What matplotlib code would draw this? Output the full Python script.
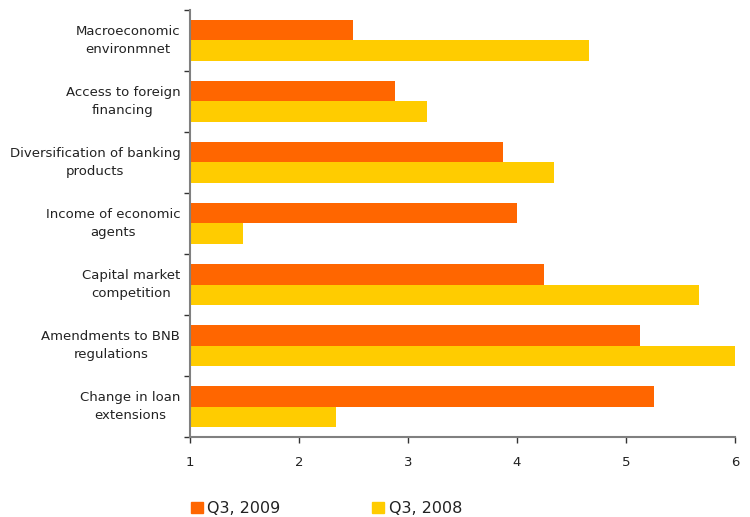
import numpy as np
import matplotlib
matplotlib.use("Agg")
import matplotlib.pyplot as plt
from matplotlib.patches import Patch

factors = ["Macroeconomic\nenvironmnet",
           "Access to foreign\nfinancing",
           "Diversification of banking\nproducts",
           "Income of economic\nagents",
           "Capital market\ncompetition",
           "Amendments to BNB\nregulations",
           "Change in loan\nextensions"]
q3_2009 = [2.50, 2.88, 3.87, 4.00, 4.25, 5.13, 5.26]
q3_2008 = [4.66, 3.17, 4.34, 1.49, 5.67, 6.00, 2.34]
series_names = ["Q3, 2009", "Q3, 2008"]
x_ticks = [1, 2, 3, 4, 5, 6]

orange = "#FF6600"
yellow = "#FFCC00"
axis_grey = "#808080"
text_col = "#222222"

plt.rcParams["font.family"] = "DejaVu Sans"

fig = plt.figure(figsize=(7.5, 5.17), dpi=100)
ax = fig.add_axes([0.2533, 0.1547, 0.7267, 0.826])

pos = np.arange(len(factors))
h = 0.335
# bars start at the axis origin (1), so width = value - 1
ax.barh(pos - h / 2, np.array(q3_2009) - 1, height=h, left=1, color=orange)
ax.barh(pos + h / 2, np.array(q3_2008) - 1, height=h, left=1, color=yellow)

ax.set_xlim(1, 6)
ax.set_ylim(len(factors) - 0.5, -0.5)
ax.set_xticks(x_ticks)
ax.set_xticklabels([str(t) for t in x_ticks], fontsize=9.5, color=text_col)
# label ticks sit a touch above the group centre (they are hidden anyway)
ax.set_yticks(pos - 0.06)
ax.set_yticklabels(factors, fontsize=9.5, color=text_col,
                   multialignment="center", linespacing=1.45)
ax.set_yticks(np.arange(-0.5, len(factors), 1), minor=True)

ax.tick_params(axis="y", which="major", length=0, pad=7)
ax.tick_params(axis="y", which="minor", length=4, width=1, color="#333333", direction="out")
ax.tick_params(axis="x", length=4, width=1, color="#333333", direction="out", pad=10)

for side in ["top", "right"]:
    ax.spines[side].set_visible(False)
for side in ["left", "bottom"]:
    ax.spines[side].set_color(axis_grey)
    ax.spines[side].set_linewidth(1.5)

handles = [Patch(color=orange), Patch(color=yellow)]
fig.legend(handles, series_names, loc="lower left", bbox_to_anchor=(0.235, -0.026),
           ncol=2, frameon=False, fontsize=11.5, handlelength=0.75, handleheight=0.75,
           handletextpad=0.3, columnspacing=5.75, labelcolor=text_col)

fig.savefig("out.png", dpi=100)
